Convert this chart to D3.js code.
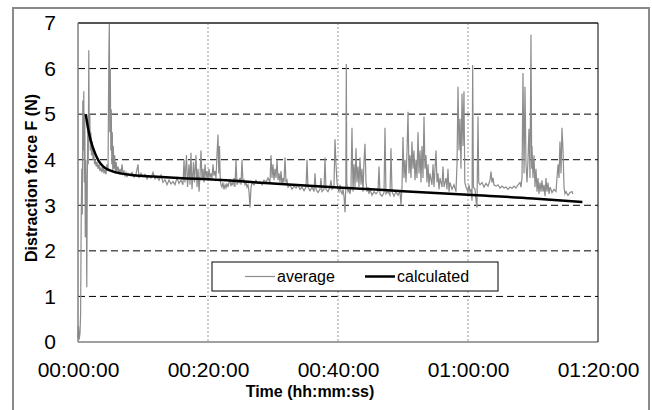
<!DOCTYPE html>
<html>
<head>
<meta charset="utf-8">
<script src="https://cdn.jsdelivr.net/npm/d3@7"></script>
<style>
  body { margin: 0; background: #fff; }
  text { font-family: "Liberation Sans", Arial, sans-serif; }
</style>
</head>
<body>
<div id="chart"></div>
<script>
// time in minutes, force in N
const avgTime = [0.00,0.08,0.18,0.31,0.40,0.49,0.58,0.66,0.74,0.82,0.89,0.97,1.05,1.12,1.20,1.28,1.35,1.43,1.51,1.58,1.66,1.74,1.82,1.89,1.97,2.08,2.18,2.31,2.43,2.55,2.68,2.80,2.92,3.08,3.23,3.38,3.54,3.69,3.85,4.00,4.15,4.31,4.46,4.62,4.74,4.82,4.89,4.97,5.05,5.12,5.20,5.28,5.35,5.43,5.54,5.65,5.75,5.86,6.00,6.15,6.31,6.46,6.62,6.77,6.92,7.08,7.23,7.38,7.54,7.69,8.00,8.31,8.62,8.92,9.23,9.38,9.69,10.00,10.31,10.62,10.92,11.23,11.54,11.85,12.15,12.46,12.77,13.08,13.38,13.69,14.00,14.31,14.62,14.92,15.23,15.54,15.85,16.15,16.31,16.46,16.69,16.85,17.08,17.23,17.38,17.54,17.77,17.92,18.15,18.31,18.46,18.62,18.77,18.92,19.08,19.23,19.38,19.54,19.69,19.85,20.00,20.15,20.31,20.46,20.62,20.77,20.92,21.08,21.23,21.38,21.54,21.65,21.77,21.89,22.00,22.15,22.31,22.46,22.62,22.77,22.92,23.08,23.23,23.38,23.54,23.69,23.85,24.00,24.15,24.31,24.46,24.62,24.77,24.92,25.08,25.23,25.38,25.54,25.69,25.85,26.00,26.15,26.31,26.46,26.62,26.77,27.08,27.38,27.69,28.00,28.31,28.62,28.92,29.23,29.54,29.69,29.85,30.00,30.15,30.31,30.46,30.62,30.77,30.92,31.08,31.23,31.38,31.54,31.69,31.85,32.00,32.15,32.31,32.62,32.92,33.23,33.54,33.85,34.15,34.46,34.77,35.08,35.23,35.38,35.69,36.00,36.31,36.46,36.62,36.92,37.23,37.38,37.54,37.85,38.00,38.15,38.46,38.77,38.92,39.08,39.38,39.54,39.69,39.85,40.00,40.15,40.31,40.46,40.62,40.77,40.92,41.08,41.20,41.28,41.35,41.54,41.69,41.85,42.00,42.15,42.31,42.46,42.62,42.77,42.92,43.08,43.23,43.38,43.54,43.69,43.85,44.00,44.15,44.31,44.46,44.62,44.77,44.92,45.23,45.54,45.85,46.15,46.31,46.46,46.77,47.08,47.23,47.38,47.69,48.00,48.15,48.31,48.62,48.92,49.23,49.54,49.69,49.85,50.00,50.15,50.31,50.46,50.62,50.77,50.92,51.08,51.23,51.38,51.54,51.69,51.85,52.00,52.15,52.31,52.46,52.62,52.77,52.92,53.08,53.23,53.38,53.54,53.69,53.85,54.00,54.15,54.46,54.62,54.77,55.08,55.23,55.38,55.54,55.69,56.00,56.15,56.31,56.62,56.77,56.92,57.08,57.23,57.54,57.85,58.15,58.31,58.46,58.62,58.77,58.92,59.08,59.23,59.38,59.51,59.69,60.00,60.15,60.31,60.46,60.62,60.72,60.83,61.08,61.31,61.38,61.54,61.65,61.85,62.15,62.46,62.77,63.08,63.38,63.54,63.69,63.85,64.00,64.31,64.62,64.92,65.23,65.54,65.85,66.15,66.46,66.77,67.08,67.38,67.69,68.00,68.15,68.31,68.46,68.62,68.77,68.92,69.08,69.23,69.38,69.54,69.69,69.80,69.85,70.00,70.15,70.31,70.46,70.62,70.77,70.92,71.08,71.23,71.38,71.54,71.69,71.85,72.00,72.15,72.31,72.46,72.62,72.92,73.23,73.54,73.69,73.85,74.00,74.15,74.31,74.46,74.62,74.77,74.92,75.08,75.38,75.69,76.00,76.15];
const avgForce = [0.1,0.35,0.05,0.2,0.6,2.6,3.8,2.8,5.3,4.2,5.5,3.5,5.0,2.3,4.0,3.0,1.2,3.5,4.8,3.9,6.4,4.4,5.0,4.2,4.6,4.1,4.4,4.0,4.15,3.9,4.0,3.85,3.95,3.8,3.9,3.75,3.82,3.72,3.85,3.7,3.78,3.68,3.9,3.75,6.2,7.0,4.6,6.0,4.2,5.1,3.9,4.6,3.75,4.3,3.8,4.1,3.7,3.95,3.75,3.85,3.7,3.8,3.68,3.9,3.7,3.75,3.65,3.72,3.62,3.7,3.66,3.72,3.62,3.68,3.9,3.6,3.7,3.63,3.68,3.58,3.65,3.6,3.72,3.58,3.62,3.55,3.66,3.5,3.56,3.45,3.55,3.47,3.52,3.45,3.6,3.48,3.55,3.45,4.0,3.5,4.1,3.4,3.9,3.45,4.15,3.35,3.95,3.5,4.1,3.4,3.8,3.3,3.65,4.2,3.55,3.8,3.5,3.9,3.6,3.75,3.55,3.8,3.6,3.7,3.6,3.9,3.65,3.75,3.6,4.1,4.55,3.7,4.3,3.55,3.45,3.4,3.5,3.35,3.45,3.38,3.48,3.4,3.5,3.55,3.42,3.5,3.45,3.6,3.4,4.0,3.45,3.55,3.5,3.6,3.45,4.0,3.5,3.55,3.45,3.5,3.4,3.45,3.3,2.95,3.4,3.5,3.45,3.55,3.48,3.52,3.45,3.55,3.5,3.6,3.5,4.1,3.6,3.9,3.55,3.8,3.6,4.0,3.55,3.7,3.5,3.75,3.45,3.6,3.5,4.05,3.5,3.55,3.4,3.45,3.35,3.42,3.38,3.45,3.35,3.4,3.32,3.4,4.0,3.4,3.32,3.4,3.3,3.7,3.35,3.28,3.35,3.6,3.3,3.35,4.05,3.35,3.3,3.4,3.55,3.35,3.4,4.45,3.9,3.5,3.35,3.3,3.45,3.3,3.25,3.35,3.2,2.85,3.4,6.1,3.5,3.3,3.35,3.25,3.4,4.7,3.3,3.9,3.4,4.25,3.5,3.85,3.4,4.05,3.45,3.8,3.3,3.95,4.35,3.5,3.3,3.4,3.25,3.35,3.22,3.3,3.25,3.3,3.85,3.25,3.2,3.28,4.7,3.25,3.3,3.22,4.25,3.3,3.2,3.3,3.22,3.3,3.0,3.4,4.5,3.6,4.0,3.5,4.2,5.05,3.7,4.1,3.6,4.4,3.8,4.2,3.55,4.0,3.6,4.6,3.7,4.2,3.5,4.3,3.6,4.95,3.8,4.1,3.5,3.9,3.4,3.7,3.45,3.9,3.4,4.2,3.5,3.7,3.35,3.6,3.4,3.85,3.4,3.6,3.35,3.8,3.3,3.5,3.35,3.45,3.3,3.9,5.6,4.2,4.9,3.8,5.45,4.3,5.5,3.5,3.4,3.3,3.45,3.3,3.35,3.1,6.08,3.4,3.35,3.0,2.95,4.95,3.5,3.45,3.5,3.4,3.48,3.42,3.55,3.74,3.5,3.6,3.45,3.42,3.45,3.38,3.42,3.38,3.4,3.35,3.4,3.37,3.42,3.38,3.45,3.5,3.4,3.6,5.9,3.7,5.6,3.9,3.5,4.0,4.68,3.6,6.74,3.8,4.3,3.6,4.1,3.4,3.8,3.3,3.6,3.25,3.5,3.3,3.55,3.3,3.45,3.2,3.6,3.3,3.5,3.25,3.4,3.28,3.35,3.3,3.6,3.9,3.6,4.4,3.7,4.7,4.2,3.4,3.25,3.3,3.22,3.28,3.3,3.25];

const calcTime = [1.2, 1.6, 2.0, 2.6, 3.2, 3.9, 5.0, 6.5, 8.5, 11.6, 16.7, 20, 30, 40, 50, 60, 70, 77.6];
const calcForce = [5.0, 4.65, 4.4, 4.15, 3.97, 3.85, 3.76, 3.70, 3.66, 3.63, 3.59, 3.57, 3.48, 3.39, 3.31, 3.23, 3.15, 3.07];

const xTicks = [0, 20, 40, 60, 80];
const xTickLabels = ['00:00:00', '00:20:00', '00:40:00', '01:00:00', '01:20:00'];
const yTicks = [0, 1, 2, 3, 4, 5, 6, 7];
const seriesNames = ['average', 'calculated'];

class ForceChart {

  constructor(_config) {
    this.config = {
      parentElement: _config.parentElement,
      containerWidth: 652,
      containerHeight: 410,
      margin: { top: 23, right: 54, bottom: 68, left: 78 }
    };
    this.initVis();
  }

  initVis() {
    const vis = this;
    const m = vis.config.margin;
    vis.width = vis.config.containerWidth - m.left - m.right;
    vis.height = vis.config.containerHeight - m.top - m.bottom;

    const svg = d3.select(vis.config.parentElement)
        .append('svg')
        .attr('width', vis.config.containerWidth)
        .attr('height', vis.config.containerHeight);

    // outer chart border
    svg.append('rect')
        .attr('x', 13).attr('y', 8)
        .attr('width', 636).attr('height', 420)
        .attr('fill', 'none')
        .attr('stroke', '#8a8a8a')
        .attr('stroke-width', 2);

    vis.svg = svg.append('g')
        .attr('transform', `translate(${m.left},${m.top})`);

    vis.xScale = d3.scaleLinear().domain([0, 80]).range([0, vis.width]);
    vis.yScale = d3.scaleLinear().domain([0, 7]).range([vis.height, 0]);

    // horizontal gridlines
    vis.svg.append('g')
      .selectAll('line')
      .data(yTicks.slice(1, -1))
      .join('line')
        .attr('x1', 0).attr('x2', vis.width)
        .attr('y1', d => vis.yScale(d)).attr('y2', d => vis.yScale(d))
        .attr('stroke', '#000')
        .attr('stroke-width', 1)
        .attr('stroke-dasharray', '7,4');

    // vertical gridlines
    vis.svg.append('g')
      .selectAll('line')
      .data(xTicks.slice(1, -1))
      .join('line')
        .attr('x1', d => vis.xScale(d)).attr('x2', d => vis.xScale(d))
        .attr('y1', 0).attr('y2', vis.height)
        .attr('stroke', '#999')
        .attr('stroke-width', 1)
        .attr('stroke-dasharray', '2,2');

    // axes (labels only)
    const xAxis = d3.axisBottom(vis.xScale)
        .tickValues(xTicks)
        .tickFormat((d, i) => xTickLabels[i])
        .tickSize(0).tickPadding(20);
    const yAxis = d3.axisLeft(vis.yScale)
        .tickValues(yTicks)
        .tickFormat(d3.format('d'))
        .tickSize(0).tickPadding(22);

    const xg = vis.svg.append('g')
        .attr('transform', `translate(0,${vis.height})`)
        .call(xAxis);
    const yg = vis.svg.append('g').call(yAxis);
    [xg, yg].forEach(g => {
      g.select('.domain').remove();
      g.attr('font-size', null).attr('font-family', null);
      g.selectAll('text')
          .attr('fill', '#000')
          .style('font-size', '21px');
    });

    // series
    const avgData = avgTime.map((t, i) => ({ t: t, f: avgForce[i] }));
    const calcData = calcTime.map((t, i) => ({ t: t, f: calcForce[i] }));

    vis.svg.append('path')
        .datum(avgData)
        .attr('d', d3.line().x(d => vis.xScale(d.t)).y(d => vis.yScale(d.f)))
        .attr('fill', 'none')
        .attr('stroke', '#8c8c8c')
        .attr('stroke-width', 1.2);

    vis.svg.append('path')
        .datum(calcData)
        .attr('d', d3.line().curve(d3.curveMonotoneX).x(d => vis.xScale(d.t)).y(d => vis.yScale(d.f)))
        .attr('fill', 'none')
        .attr('stroke', '#000')
        .attr('stroke-width', 2.5);

    // plot frame
    vis.svg.append('line').attr('x1', 0).attr('x2', vis.width).attr('y1', 0).attr('y2', 0)
        .attr('stroke', '#555').attr('stroke-width', 2);
    vis.svg.append('line').attr('x1', 0).attr('x2', 0).attr('y1', 0).attr('y2', vis.height)
        .attr('stroke', '#808080').attr('stroke-width', 1.5);
    vis.svg.append('line').attr('x1', 0).attr('x2', vis.width).attr('y1', vis.height).attr('y2', vis.height)
        .attr('stroke', '#808080').attr('stroke-width', 1.5);
    vis.svg.append('line').attr('x1', vis.width).attr('x2', vis.width).attr('y1', 0).attr('y2', vis.height)
        .attr('stroke', '#000').attr('stroke-width', 1);

    // legend
    const legend = svg.append('g').attr('transform', 'translate(212,262)');
    legend.append('rect')
        .attr('width', 286).attr('height', 29)
        .attr('fill', '#fff').attr('stroke', '#000').attr('stroke-width', 1);
    const items = [
      { x: 33, color: '#8c8c8c', w: 1.2 },
      { x: 153, color: '#000', w: 2.5 }
    ];
    items.forEach((it, i) => {
      legend.append('line')
          .attr('x1', it.x).attr('x2', it.x + 30)
          .attr('y1', 14.5).attr('y2', 14.5)
          .attr('stroke', it.color).attr('stroke-width', it.w);
      legend.append('text')
          .attr('x', it.x + 32).attr('y', 20)
          .style('font-size', '16px')
          .text(seriesNames[i]);
    });

    // axis titles
    svg.append('text')
        .attr('x', 310).attr('y', 397)
        .attr('text-anchor', 'middle')
        .style('font-size', '16px').style('font-weight', 'bold')
        .text('Time (hh:mm:ss)');

    svg.append('text')
        .attr('transform', 'translate(37,178) rotate(-90)')
        .attr('text-anchor', 'middle')
        .style('font-size', '16px').style('font-weight', 'bold')
        .text('Distraction force F (N)');
  }
}

new ForceChart({ parentElement: '#chart' });
</script>
</body>
</html>
